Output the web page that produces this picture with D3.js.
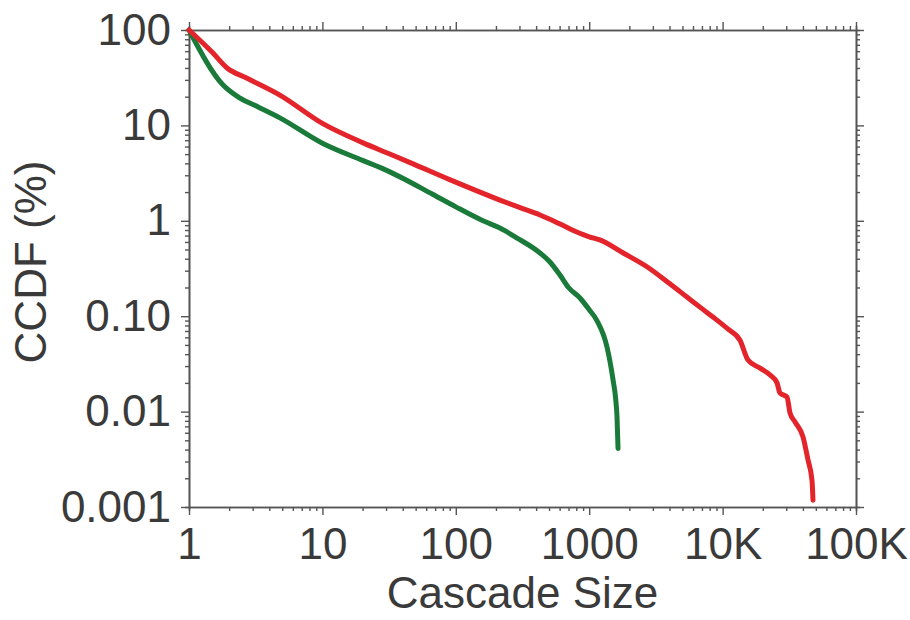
<!DOCTYPE html>
<html>
<head>
<meta charset="utf-8">
<script src="https://cdn.jsdelivr.net/npm/d3@7"></script>
<style>
  body { margin: 0; background: #fff; }
  svg text { font-family: "Liberation Sans", Arial, sans-serif; fill: #3a3a3a; }
  .axis path, .axis line { stroke: #555; }
</style>
</head>
<body>
<svg id="chart" width="910" height="620"></svg>
<script>
// tick values / labels
var xTicks = [1, 10, 100, 1000, 10000, 100000];
var xTickLabels = ["1", "10", "100", "1000", "10K", "100K"];
var yTicks = [100, 10, 1, 0.1, 0.01, 0.001];
var yTickLabels = ["100", "10", "1", "0.10", "0.01", "0.001"];

// red series
var redSize = [1, 1.5, 1.93, 2.7, 4.8, 10, 20, 31, 45, 90, 214, 300, 428, 600, 850, 1000, 1200, 1800, 2710, 4000, 5400, 7000, 8470, 11000, 13500, 15500, 19100, 22700, 25600, 26900, 30400, 32000, 34900, 40100, 43700, 46800, 47600];
var redCcdf = [100, 58, 40, 31.4, 20.8, 10.5, 6.6, 5.1, 4.1, 2.7, 1.65, 1.38, 1.15, 0.93, 0.74, 0.68, 0.63, 0.46, 0.33, 0.22, 0.159, 0.12, 0.098, 0.073, 0.056, 0.0347, 0.0286, 0.0242, 0.020, 0.0157, 0.0142, 0.0097, 0.0078, 0.0054, 0.0031, 0.0019, 0.00118];

// green series
var greenSize = [1, 1.8, 2.4, 3.3, 4.8, 10, 20, 30, 67, 100, 160, 214, 288, 428, 508, 604, 700, 853, 1000, 1143, 1360, 1510, 1580, 1616, 1645];
var greenCcdf = [100, 26.5, 19.4, 15.6, 12, 6.5, 4.3, 3.4, 1.9, 1.4, 1.0, 0.84, 0.66, 0.46, 0.37, 0.27, 0.20, 0.155, 0.117, 0.09, 0.0475, 0.0214, 0.0135, 0.0088, 0.0041];

var svg = d3.select("#chart");
var margin = {top: 30, right: 54, bottom: 113, left: 189},
    width = +svg.attr("width") - margin.left - margin.right,
    height = +svg.attr("height") - margin.top - margin.bottom;
var g = svg.append("g").attr("transform", "translate(" + margin.left + "," + margin.top + ")");

var x = d3.scaleLog().domain([1, 100000]).range([0, width]);
var y = d3.scaleLog().domain([0.001, 100]).range([height, 0]);

function isMajor(list, d) {
    return list.some(function (t) { return Math.abs(t - d) / t < 1e-9; });
}
var xMinor = x.ticks().filter(function (d) { return !isMajor(xTicks, d); });
var yMinor = y.ticks().filter(function (d) { return !isMajor(yTicks, d); });

function styleAxis(sel) {
    sel.attr("class", "axis");
    sel.select(".domain").attr("stroke-width", 1.6);
    sel.selectAll("line").attr("stroke-width", 1.4);
    sel.selectAll("text").attr("font-size", 44).attr("fill", "#3a3a3a");
}

// minor ticks on all four sides
g.append("g").attr("transform", "translate(0," + height + ")")
    .call(d3.axisBottom(x).tickValues(xMinor).tickSize(4).tickFormat(""))
    .call(styleAxis);
g.append("g")
    .call(d3.axisTop(x).tickValues(xMinor).tickSize(4).tickFormat(""))
    .call(styleAxis);
g.append("g")
    .call(d3.axisLeft(y).tickValues(yMinor).tickSize(4).tickFormat(""))
    .call(styleAxis);
g.append("g").attr("transform", "translate(" + width + ",0)")
    .call(d3.axisRight(y).tickValues(yMinor).tickSize(4).tickFormat(""))
    .call(styleAxis);

// major ticks and labels
g.append("g").attr("transform", "translate(0," + height + ")")
    .call(d3.axisBottom(x).tickValues(xTicks).tickSize(8).tickSizeOuter(0).tickPadding(13)
        .tickFormat(function (d, i) { return xTickLabels[i]; }))
    .call(styleAxis);
g.append("g")
    .call(d3.axisTop(x).tickValues(xTicks).tickSize(8).tickSizeOuter(0).tickFormat(""))
    .call(styleAxis);
g.append("g")
    .call(d3.axisLeft(y).tickValues(yTicks).tickSize(8).tickSizeOuter(0).tickPadding(10)
        .tickFormat(function (d, i) { return yTickLabels[i]; }))
    .call(styleAxis);
g.append("g").attr("transform", "translate(" + width + ",0)")
    .call(d3.axisRight(y).tickValues(yTicks).tickSize(8).tickSizeOuter(0).tickFormat(""))
    .call(styleAxis);

// curves
var line = d3.line()
    .x(function (d) { return x(d[0]); })
    .y(function (d) { return y(d[1]); })
    .curve(d3.curveMonotoneX);

function drawSeries(sizes, values, color) {
    g.append("path")
        .datum(d3.zip(sizes, values))
        .attr("fill", "none")
        .attr("stroke", color)
        .attr("stroke-width", 5)
        .attr("stroke-linejoin", "round")
        .attr("stroke-linecap", "round")
        .attr("d", line);
}
drawSeries(greenSize, greenCcdf, "#1a7a3a");
drawSeries(redSize, redCcdf, "#e3242b");

// axis titles
svg.append("text")
    .attr("x", margin.left + width / 2)
    .attr("y", 608)
    .attr("text-anchor", "middle")
    .attr("font-size", 44)
    .text("Cascade Size");
svg.append("text")
    .attr("transform", "translate(46,262) rotate(-90)")
    .attr("text-anchor", "middle")
    .attr("font-size", 44)
    .text("CCDF (%)");
</script>
</body>
</html>
